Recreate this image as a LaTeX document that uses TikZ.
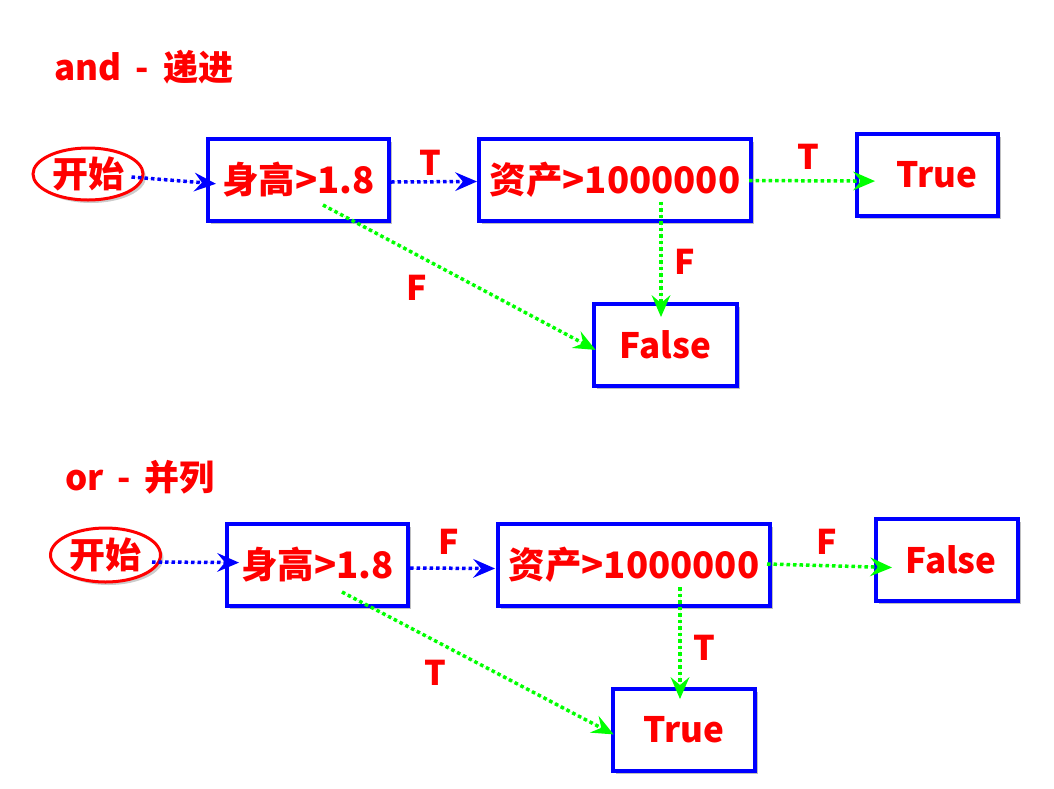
\documentclass[tikz,border=0pt]{standalone}
\usepackage{fontspec}
\setmainfont{Noto Sans CJK SC}
\usetikzlibrary{arrows.meta,shadows,shapes.geometric}
\definecolor{myred}{RGB}{255,0,0}
\definecolor{myblue}{RGB}{0,0,255}
\definecolor{mygreen}{RGB}{0,255,0}
\tikzset{
  txt/.style={font=\fontsize{36.5}{42}\selectfont\bfseries, text=myred, inner sep=0pt},
  small/.style={font=\fontsize{35}{40}\selectfont\bfseries},
  lbl/.style={font=\fontsize{34}{40}\selectfont\bfseries, text=myred, inner sep=0pt},
  ttl/.style={font=\fontsize{35}{40}\selectfont\bfseries, text=myred, inner sep=0pt},
  box/.style={txt, draw=myblue, line width=4pt, fill=white, minimum height=82pt,
    drop shadow={shadow xshift=3pt, shadow yshift=-3pt, opacity=0.25, fill=black}},
  startnode/.style={txt, font=\fontsize{36}{42}\selectfont\bfseries, ellipse, draw=myred, line width=3pt, fill=white, minimum width=110pt, minimum height=54pt,
    drop shadow={shadow xshift=3pt, shadow yshift=-3pt, opacity=0.2, fill=black}},
  arrowtip/.style={-{Stealth[length=22pt,width=19pt,inset=8pt,line width=0pt]}},
  bluearrow/.style={arrowtip, draw=myblue, fill=myblue, line width=3.5pt, dash pattern=on 3.5pt off 3pt},
  greenarrow/.style={arrowtip, draw=mygreen, fill=mygreen, line width=3.5pt, dash pattern=on 3.5pt off 3pt},
}
\begin{document}
\begin{tikzpicture}[x=1pt,y=-1pt]
\useasboundingbox[fill=white] (0,0) rectangle (1054,788);

% ---------- and ----------
\node[ttl] (title1) at (144,67) {and\hspace{6pt} - \hspace{6pt}递进};
\node[startnode, minimum height=52pt] (s1) at (88,174) {开始};
\node[box, minimum width=181pt] (h1) at (298.5,180) {身高>1.8};
\node[box, minimum width=272pt] (z1) at (615,179.5) {资产>1000000};
\node[box, small, minimum width=141pt] (t1) at (927.5,175) {\hspace*{19pt}True};
\node[box, small, minimum width=143pt] (f1) at (665.5,345) {False};

\draw[bluearrow, shorten >=-10pt] ([shift={(-13pt,-3pt)}]s1.east) -- ([yshift=-3pt]h1.west);
\draw[bluearrow, shorten >=0pt] ([yshift=-2pt]h1.east) -- ([yshift=-2pt]z1.west);
\draw[greenarrow, shorten >=-20pt] ([shift={(-4pt,-1pt)}]z1.east) -- ([yshift=-6pt]t1.west);
\coordinate (z1d) at ([shift={(46pt,-22pt)}]z1.center);
\draw[greenarrow, shorten >=-15pt] (z1d) -- (z1d |- f1.north);
\draw[greenarrow, shorten >=-4pt] ([shift={(24.5pt,-25pt)}]h1.center) -- ([yshift=-3pt]f1.west);

\node[lbl] (l1) at (430,163) {T};
\node[lbl] (l2) at (808,157) {T};
\node[lbl] (l3) at (417,288) {F};
\node[lbl] (l4) at (685,262) {F};

% ---------- or ----------
\node[ttl] (title2) at (140,477) {or\hspace{6pt} - \hspace{6pt}并列};
\node[startnode] (s2) at (105.5,555) {开始};
\node[box, minimum width=181pt] (h2) at (317.5,564.5) {身高>1.8};
\node[box, minimum width=272pt] (z2) at (634,565) {资产>1000000};
\node[box, small, minimum width=142pt] (f2) at (947,560) {\hspace*{8pt}False};
\node[box, small, minimum width=142pt] (t2) at (684,730) {True};

\draw[bluearrow, shorten >=-14pt] ([shift={(-10pt,-7pt)}]s2.east) -- ([yshift=2pt]h2.west);
\draw[bluearrow, shorten >=1pt] ([yshift=-3.5pt]h2.east) -- ([yshift=-3.5pt]z2.west);
\draw[greenarrow, shorten >=-18pt] ([shift={(-5pt,1pt)}]z2.east) -- ([yshift=-7pt]f2.west);
\coordinate (z2d) at ([shift={(46pt,-22pt)}]z2.center);
\draw[greenarrow, shorten >=-12pt] (z2d) -- (z2d |- t2.north);
\draw[greenarrow, shorten >=-3pt] ([shift={(24.5pt,-27.5pt)}]h2.center) -- ([yshift=-3pt]t2.west);

\node[lbl] (l5) at (449,542) {F};
\node[lbl] (l6) at (827,542) {F};
\node[lbl] (l7) at (435,673) {T};
\node[lbl] (l8) at (704,648) {T};
\end{tikzpicture}
\end{document}
